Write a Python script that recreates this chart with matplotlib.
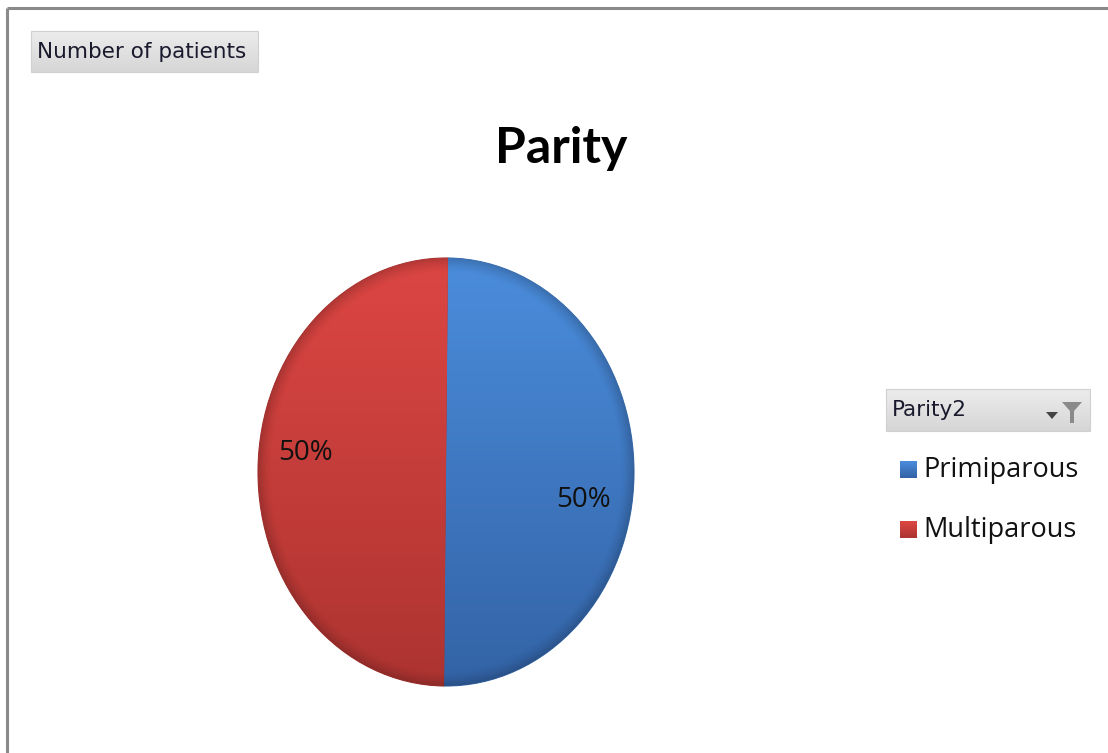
import numpy as np
import matplotlib
matplotlib.use("Agg")
import matplotlib.pyplot as plt
from matplotlib.patches import Rectangle, Polygon
from matplotlib.colors import LinearSegmentedColormap

# Data
categories = ["Primiparous", "Multiparous"]
patients = [50, 50]
title = "Parity"
field_label = "Number of patients"
legend_title = "Parity2"

W, H = 1108, 753
fig = plt.figure(figsize=(W / 100, H / 100), dpi=100)
fig.patch.set_facecolor("white")

# Canvas axes in pixel coordinates for the frame, buttons and text
bg = fig.add_axes([0, 0, 1, 1])
bg.set_xlim(0, W)
bg.set_ylim(H, 0)
bg.axis("off")

# Outer chart border (top and left)
bg.plot([7, W], [8, 8], color="#8a8a8a", lw=2.2, solid_capstyle="butt")
bg.plot([7, 7], [8, H], color="#8a8a8a", lw=2.2, solid_capstyle="butt")

NARROW = ["DejaVu Sans Condensed", "DejaVu Sans"]


def gray_button(x0, y0, w, h):
    grad = np.linspace(0, 1, 50).reshape(-1, 1)
    cmap = LinearSegmentedColormap.from_list("btn", ["#ececec", "#d6d6d6"])
    bg.imshow(grad, extent=(x0, x0 + w, y0 + h, y0), cmap=cmap, aspect="auto",
              zorder=1, interpolation="bilinear")
    bg.add_patch(Rectangle((x0, y0), w, h, fill=False, edgecolor="#d0d0d0",
                           lw=0.8, zorder=2))


# Field button
gray_button(31, 31, 227, 41)
bg.text(37, 52, field_label, fontsize=15.5, family=NARROW,
        color="#1a1a2e", va="center", ha="left", zorder=3)

# Title
bg.text(561, 148, title, fontsize=36, fontweight="bold", family="Lato",
        color="black", ha="center", va="center")

# Legend header with filter glyph
gray_button(886, 389, 204, 42)
bg.text(892, 410, legend_title, fontsize=15.5, family=NARROW,
        color="#1a1a2e", va="center", ha="left", zorder=3)
bg.add_patch(Polygon([[1062, 402], [1082, 402], [1074, 411], [1074, 423],
                      [1070, 423], [1070, 411]], closed=True,
                     facecolor="#8a8a8a", edgecolor="none", zorder=3))
bg.add_patch(Polygon([[1046, 412], [1058, 412], [1052, 419]], closed=True,
                     facecolor="#444444", edgecolor="none", zorder=3))

# Pie
top_colors = ["#4b8ddc", "#dc4643"]
bot_colors = ["#3363a6", "#ad3431"]
edge_colors = ["#3a6aa8", "#9a302d"]

cx, cy, rx, ry = 446, 472, 188, 214
pie_ax = fig.add_axes([(cx - rx) / W, 1 - (cy + ry) / H, 2 * rx / W, 2 * ry / H])
wedges, texts, autotexts = pie_ax.pie(
    patients, labels=None, startangle=89.4, counterclock=False,
    colors=top_colors, autopct="%1.0f%%", pctdistance=0.75,
    wedgeprops=dict(linewidth=0.8),
    textprops=dict(fontsize=20, color="#111111", family="Open Sans"))
pie_ax.set_aspect("auto")
pie_ax.axis("off")

for i, w in enumerate(wedges):
    w.set_edgecolor(edge_colors[i])
    cmap = LinearSegmentedColormap.from_list(
        "g%d" % i, [top_colors[i], bot_colors[i]])
    grad = np.linspace(0, 1, 256).reshape(-1, 1)
    im = pie_ax.imshow(grad, extent=(-1, 1, -1, 1), cmap=cmap, aspect="auto",
                       zorder=w.get_zorder() + 0.1, interpolation="bilinear")
    im.set_clip_path(w)
    # soft darker rim for a bevelled look
    rim = np.linspace(0, 1, 256)
    xx, yy = np.meshgrid(rim * 2 - 1, rim * 2 - 1)
    rr = np.sqrt(xx ** 2 + yy ** 2)
    alpha = np.clip((rr - 0.93) / 0.07, 0, 1) ** 1.5 * 0.18
    shade = np.zeros((256, 256, 4))
    shade[..., 3] = alpha
    im2 = pie_ax.imshow(shade, extent=(-1, 1, -1, 1), aspect="auto",
                        zorder=w.get_zorder() + 0.2, origin="lower",
                        interpolation="bilinear")
    im2.set_clip_path(w)

pie_ax.set_xlim(-1.0, 1.0)
pie_ax.set_ylim(-1.0, 1.0)

# Percent label placement
autotexts[0].set_position((0.73, -0.13))
autotexts[1].set_position((-0.75, 0.09))
for t in autotexts:
    t.set_zorder(5)

# Legend entries
legend_y = [470, 530]
for i, (name, y) in enumerate(zip(categories, legend_y)):
    cm = LinearSegmentedColormap.from_list("l%d" % i, [top_colors[i], bot_colors[i]])
    bg.imshow(np.linspace(0, 1, 20).reshape(-1, 1), extent=(900, 917, y + 8, y - 9),
              cmap=cm, aspect="auto", zorder=3)
    bg.text(923, y, name, fontsize=19.5, family="Open Sans", color="#111111",
            va="center", ha="left")

bg.set_xlim(0, W)
bg.set_ylim(H, 0)

fig.savefig("out.png", dpi=100, facecolor="white")
